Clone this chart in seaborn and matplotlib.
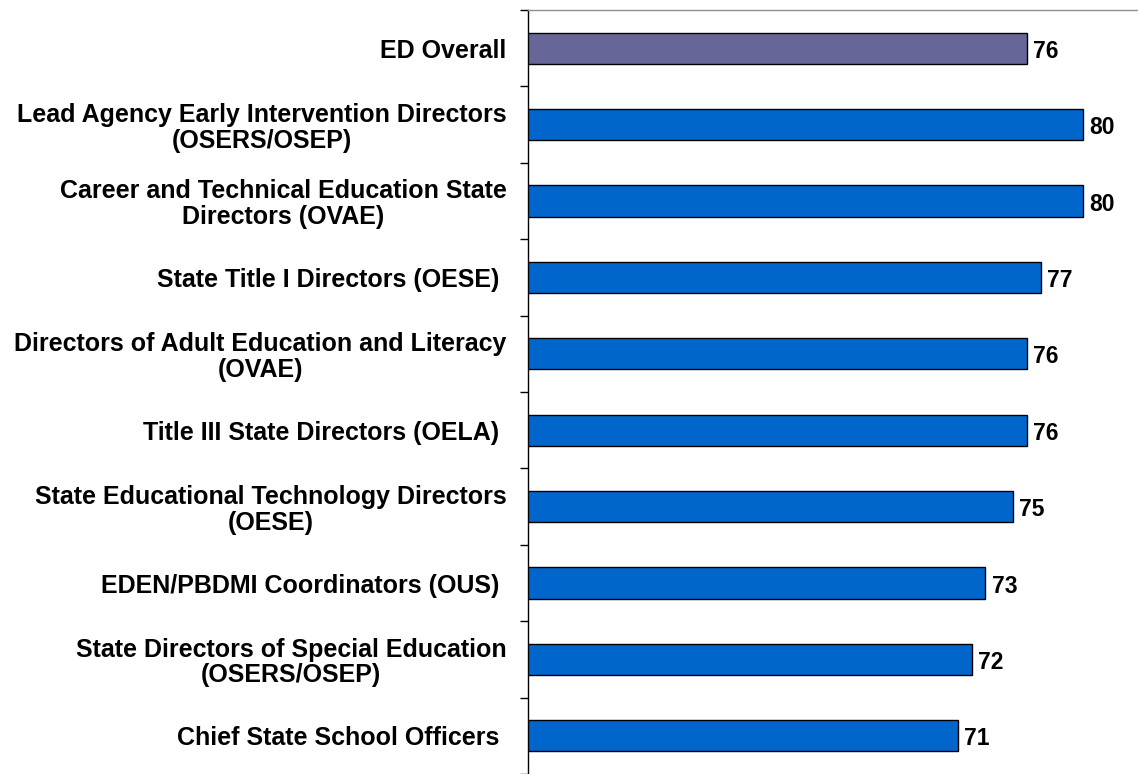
import seaborn as sns
import numpy as np
import matplotlib.pyplot as plt
import pandas as pd

groups = ['ED Overall',
          'Lead Agency Early Intervention Directors\n(OSERS/OSEP)',
          'Career and Technical Education State\nDirectors (OVAE)',
          'State Title I Directors (OESE) ',
          'Directors of Adult Education and Literacy\n(OVAE)',
          'Title III State Directors (OELA) ',
          'State Educational Technology Directors\n(OESE)',
          'EDEN/PBDMI Coordinators (OUS) ',
          'State Directors of Special Education\n(OSERS/OSEP)',
          'Chief State School Officers ']
scores = [76, 80, 80, 77, 76, 76, 75, 73, 72, 71]
bar_colors = ['#666699'] + ['#0066CC'] * 9

df = pd.DataFrame({'group': groups, 'score': scores})

sns.set_style('white')
plt.rcParams['font.family'] = ['Liberation Sans', 'DejaVu Sans']
plt.rcParams['text.color'] = 'black'
plt.rcParams['ytick.color'] = 'black'
plt.rcParams['ytick.labelcolor'] = 'black'

fig = plt.figure(figsize=(11.38, 7.74), dpi=100)
ax = fig.add_axes([528 / 1138, 0, 1 - 528 / 1138, 1 - 10 / 774])

sns.barplot(data=df, y='group', x='score', hue='group', palette=bar_colors,
            orient='h', width=0.41, edgecolor='black', linewidth=1,
            saturation=1, legend=False, ax=ax)

ax.set_xlim(40, 84)
ax.set_ylim(len(groups) - 0.5, -0.5)
ax.set_xlabel('')
ax.set_ylabel('')
ax.set_xticks([])

# value labels next to each bar
for i, v in enumerate(scores):
    ax.text(v + 0.45, i + 0.04, str(v), va='center', ha='left',
            fontsize=16.5, fontweight='bold', color='black')

ax.set_yticks(range(len(groups)))
ax.set_yticklabels(groups, fontsize=18, fontweight='bold',
                   multialignment='center', linespacing=1.08, color='black')
ax.tick_params(axis='y', which='major', length=0, pad=15.5)
ax.set_yticks(np.arange(-0.5, len(groups), 1), minor=True)
ax.tick_params(axis='y', which='minor', length=6, width=1, color='black',
               left=True)

for side in ['right', 'bottom']:
    ax.spines[side].set_visible(False)
ax.spines['left'].set_color('black')
ax.spines['left'].set_linewidth(1)
ax.spines['top'].set_color('#909090')
ax.spines['top'].set_linewidth(1)

fig.savefig('out.png', dpi=100)
